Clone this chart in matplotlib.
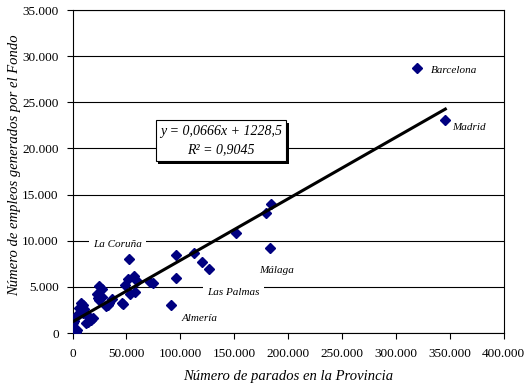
import matplotlib
matplotlib.use("Agg")
import matplotlib.pyplot as plt
import matplotlib.patheffects as pe
from matplotlib.ticker import FuncFormatter
import numpy as np

plt.rcParams['font.family'] = ['Liberation Serif', 'DejaVu Serif']

# parados por provincia (x) y empleos generados por el Fondo (y)
parados = [320000, 346000, 184500, 179500, 151500, 183500, 112500, 96000, 52600, 120500,
           126500, 57000, 96000, 51400, 59500, 71500, 75000, 48500, 57500, 53500,
           91500, 45500, 47000, 24700, 27000, 22600, 23800, 27000, 24700, 36800,
           33000, 31000, 34000, 7700, 9300, 6200, 7700, 9300, 11000, 12500,
           4500, 3000, 1500, 500, 15400, 17000, 18600, 12400, 13900, 4500, 3500]
empleos = [28700, 23100, 14000, 13000, 10800, 9200, 8700, 8500, 8000, 7700,
           6900, 6200, 6000, 5900, 5700, 5550, 5450, 5200, 4500, 4200,
           3000, 3300, 3150, 5100, 4800, 4200, 3800, 3900, 3600, 3700,
           3100, 2900, 3250, 3250, 3050, 2700, 2350, 2150, 2600, 2050,
           2000, 1700, 1350, 1050, 1800, 1400, 1600, 1050, 1250, 350, 150]

# etiquetas de provincias
etiquetas = ["Barcelona", "Madrid", "La Coruña", "Las Palmas", "Almería", "Málaga"]
etiq_x = [333000, 352500, 41500, 149000, 118000, 189000]
etiq_y = [28450, 22300, 9550, 4350, 1550, 6750]

pendiente = 0.0666
ordenada = 1228.5
r2 = 0.9045

fig = plt.figure(figsize=(5.30, 3.86), dpi=100)
ax = fig.add_axes([0.137, 0.137, 0.813, 0.837])

ax.set_xlim(0, 400000)
ax.set_ylim(0, 35000)
ax.set_xticks(np.arange(0, 400001, 50000))
ax.set_yticks(np.arange(0, 35001, 5000))

fmt = FuncFormatter(lambda v, p: f"{int(v):,}".replace(",", "."))
ax.xaxis.set_major_formatter(fmt)
ax.yaxis.set_major_formatter(fmt)
ax.tick_params(direction='out', length=4, width=0.8, colors='black', labelsize=9.5)
ax.tick_params(axis='x', pad=7)
ax.tick_params(axis='y', pad=6)

ax.yaxis.grid(True, color='black', lw=0.8)
ax.set_axisbelow(True)
for s in ax.spines.values():
    s.set_color('black')
    s.set_linewidth(0.8)

ax.plot(parados, empleos, linestyle='none', marker='D', ms=4.8,
        color='#000080', zorder=3)

xl = np.array([min(parados), max(parados)])
ax.plot(xl, pendiente * xl + ordenada, color='black', lw=2.2, zorder=4)

for t, x, y in zip(etiquetas, etiq_x, etiq_y):
    ha = 'left' if t in ("Barcelona", "Madrid") else 'center'
    ax.text(x, y, t, fontsize=8, style='italic', ha=ha, va='center', zorder=2,
            bbox=dict(facecolor='white', edgecolor='none', pad=3))

eq = ax.text(137500, 20850,
             f"y = {pendiente:.4f}x + {ordenada:.1f}".replace(".", ",") + "\n"
             + f"R² = {r2:.4f}".replace(".", ","),
             fontsize=10, style='italic', ha='center', va='center', zorder=5,
             linespacing=1.6,
             bbox=dict(boxstyle='square,pad=0.3', facecolor='white',
                       edgecolor='black', lw=0.8))
eq.get_bbox_patch().set_path_effects([
    pe.withSimplePatchShadow(offset=(2, -2), shadow_rgbFace='black', alpha=1)])

ax.set_xlabel("Número de parados en la Provincia", fontsize=10.5, style='italic', labelpad=7)
ax.set_ylabel("Número de empleos generados por el Fondo", fontsize=10.5, style='italic')
ax.yaxis.set_label_coords(-0.12, 0.52)

fig.savefig("out.png", dpi=100)
